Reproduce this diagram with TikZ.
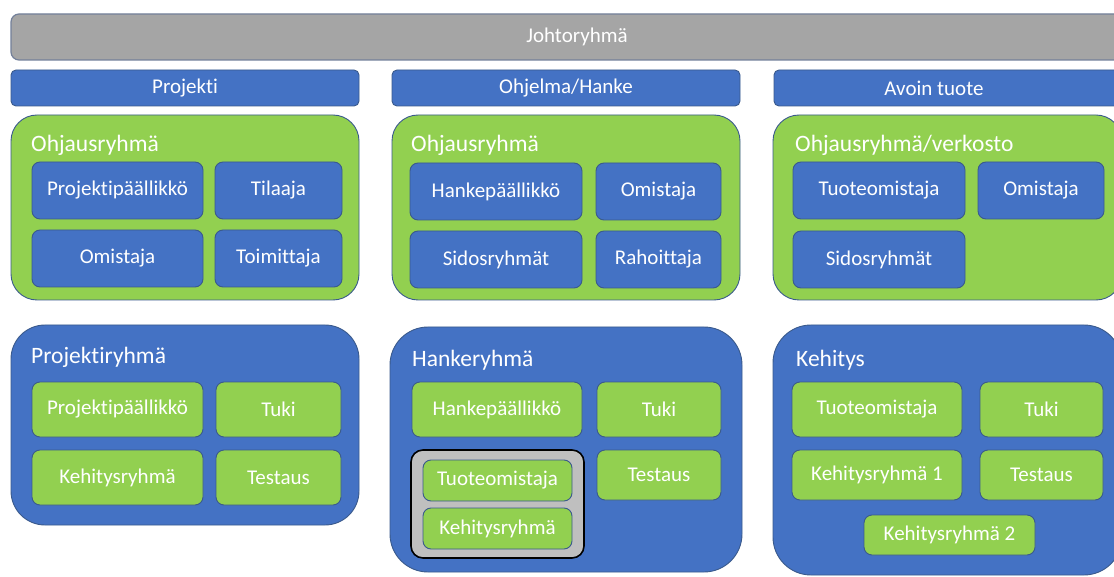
\documentclass[tikz,border=0pt]{standalone}
\usepackage{fontspec}
\setmainfont{Carlito}[Ligatures=NoCommon]
\definecolor{offblue}{HTML}{4472C4}
\definecolor{offgreen}{HTML}{92D050}
\definecolor{barfill}{HTML}{A5A5A5}
\definecolor{barline}{HTML}{73809A}
\definecolor{edge}{HTML}{3A5A8C}
\definecolor{groupfill}{HTML}{BFBFBF}
\newcommand{\lblfont}{\fontsize{21}{25}\selectfont}
\newcommand{\ttlfont}{\fontsize{23.5}{28}\selectfont}
\newcommand{\hdrfont}{\fontsize{21}{25}\selectfont}
\tikzset{
  shapebase/.style={rounded corners=#1, draw=edge, line width=0.9pt, inner sep=0pt, text=white, font=\lblfont},
  bluebox/.style={shapebase=8pt, fill=offblue},
  greenbox/.style={shapebase=8pt, fill=offgreen},
  greenpanel/.style={shapebase=26pt, fill=offgreen},
  bluepanel/.style={shapebase=34pt, fill=offblue},
  header/.style={shapebase=5pt, fill=offblue, font=\hdrfont},
  topbar/.style={rounded corners=8pt, draw=barline, line width=1.2pt, fill=barfill, inner sep=0pt, text=white, font=\hdrfont},
  group/.style={rounded corners=12pt, draw=black, line width=1.6pt, fill=groupfill, inner sep=0pt},
  paneltitle/.style={anchor=west, inner sep=0pt, text=white, font=\ttlfont},
  hdrtext/.style={inner sep=0pt, text=white, font=\hdrfont},
}
\begin{document}
\begin{tikzpicture}[x=1pt, y=-1pt]
\useasboundingbox (0,0) rectangle (1114,577);
\fill[white] (0,0) rectangle (1114,577);
\clip (0,0) rectangle (1114,577);

% steering bar across all columns
\node[topbar, minimum width=1132pt, minimum height=46pt] (johto) at (577,37) {Johtoryhmä};

% column headers
\node[header, minimum width=348pt, minimum height=36pt] (hproj) at (185,88) {Projekti};
\node[header, minimum width=348pt, minimum height=36pt] (hohj) at (566,88) {Ohjelma/Hanke};
\node[header, minimum width=348pt, minimum height=36pt] (havo) at (948,88) {};
\node[hdrtext] (havotext) at (934,88) {Avoin tuote};

% ---- steering groups ----
\node[greenpanel, minimum width=348pt, minimum height=185pt] (ohjA) at (185,207.5) {};
\node[paneltitle] (ohjAt) at (31,145) {Ohjausryhmä};
\node[bluebox, minimum width=171pt, minimum height=57pt] (a1) at (117.5,190.5) {Projektipäällikkö};
\node[bluebox, minimum width=127pt, minimum height=57pt] (a2) at (278.5,190.5) {Tilaaja};
\node[bluebox, minimum width=171pt, minimum height=57pt] (a3) at (117.5,258.5) {Omistaja};
\node[bluebox, minimum width=127pt, minimum height=57pt] (a4) at (278.5,258.5) {Toimittaja};

\node[greenpanel, minimum width=348pt, minimum height=185pt] (ohjB) at (566,207.5) {};
\node[paneltitle] (ohjBt) at (411,145) {Ohjausryhmä};
\node[bluebox, minimum width=172pt, minimum height=57pt] (b1) at (496,191.5) {Hankepäällikkö};
\node[bluebox, minimum width=125pt, minimum height=57pt] (b2) at (658.5,191.5) {Omistaja};
\node[bluebox, minimum width=172pt, minimum height=57pt] (b3) at (496,259.5) {Sidosryhmät};
\node[bluebox, minimum width=125pt, minimum height=57pt] (b4) at (658.5,259.5) {Rahoittaja};

\node[greenpanel, minimum width=349pt, minimum height=185pt] (ohjC) at (947.5,207.5) {};
\node[paneltitle] (ohjCt) at (795,145) {Ohjausryhmä/verkosto};
\node[bluebox, minimum width=172pt, minimum height=57pt] (c1) at (879,190.5) {Tuoteomistaja};
\node[bluebox, minimum width=126pt, minimum height=57pt] (c2) at (1041,190.5) {Omistaja};
\node[bluebox, minimum width=172pt, minimum height=57pt] (c3) at (879,259.5) {Sidosryhmät};

% ---- working groups ----
\node[bluepanel, minimum width=348pt, minimum height=200pt] (tyoA) at (185,425) {};
\node[paneltitle] (tyoAt) at (31,357) {Projektiryhmä};
\node[greenbox, minimum width=171pt, minimum height=55pt] (d1) at (117.5,409.5) {Projektipäällikkö};
\node[greenbox, minimum width=125pt, minimum height=55pt] (d2) at (278.5,409.5) {Tuki};
\node[greenbox, minimum width=171pt, minimum height=55pt] (d3) at (117.5,477.5) {Kehitysryhmä};
\node[greenbox, minimum width=125pt, minimum height=55pt] (d4) at (278.5,477.5) {Testaus};

\node[bluepanel, shapebase=38pt, minimum width=352pt, minimum height=245pt] (tyoB) at (566,449.5) {};
\node[paneltitle] (tyoBt) at (412,360) {Hankeryhmä};
\node[greenbox, minimum width=170pt, minimum height=55pt] (e1) at (497,409.5) {Hankepäällikkö};
\node[greenbox, minimum width=124pt, minimum height=55pt] (e2) at (659,409.5) {Tuki};
\node[greenbox, minimum width=124pt, minimum height=50pt] (e3) at (659,475) {Testaus};
\node[group, minimum width=173pt, minimum height=108pt] (egrp) at (497.5,504) {};
\node[greenbox, minimum width=149pt, minimum height=41pt] (e4) at (497.5,480.5) {Tuoteomistaja};
\node[greenbox, minimum width=149pt, minimum height=41pt] (e5) at (497.5,528.5) {Kehitysryhmä};

\node[bluepanel, shapebase=38pt, minimum width=349pt, minimum height=250pt] (tyoC) at (947.5,450) {};
\node[paneltitle] (tyoCt) at (796,360) {Kehitys};
\node[greenbox, minimum width=170pt, minimum height=55pt] (f1) at (877,409.5) {Tuoteomistaja};
\node[greenbox, minimum width=123pt, minimum height=55pt] (f2) at (1041.5,409.5) {Tuki};
\node[greenbox, minimum width=170pt, minimum height=50pt] (f3) at (877,475) {Kehitysryhmä 1};
\node[greenbox, minimum width=123pt, minimum height=50pt] (f4) at (1041.5,475) {Testaus};
\node[greenbox, minimum width=171pt, minimum height=40pt] (f5) at (949.5,535) {Kehitysryhmä 2};
\end{tikzpicture}
\end{document}
